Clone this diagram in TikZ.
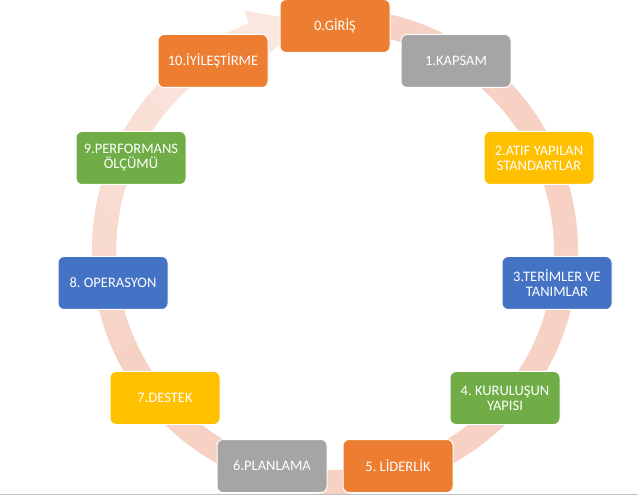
\documentclass[tikz,border=0pt]{standalone}
\usepackage{fontspec}
\setmainfont{Carlito}
\usetikzlibrary{calc}
\frenchspacing
\definecolor{cOrange}{HTML}{ED7D31}
\definecolor{cGray}{HTML}{A5A5A5}
\definecolor{cGold}{HTML}{FFC000}
\definecolor{cBlue}{HTML}{4472C4}
\definecolor{cGreen}{HTML}{70AD47}
\definecolor{ringStrong}{HTML}{F6D1C4}
\definecolor{ringLight}{HTML}{FBE7E0}
\definecolor{ruleGray}{HTML}{BFBFBF}
\tikzset{
  box/.style={rectangle, rounded corners=6pt, draw=white, line width=1pt,
    text=white, minimum width=110pt, minimum height=53pt, align=center,
    inner sep=2pt, font=\fontsize{14.5}{15}\selectfont\frenchspacing},
  ringseg/.style={line width=24pt},
  rulestyle/.style={draw=ruleGray, line width=1.5pt}
}
\begin{document}
\begin{tikzpicture}[x=1pt,y=-1pt]
\useasboundingbox[fill=white] (0,0) rectangle (638,497);
\coordinate (C) at (335,251);
% ring (circular arrow)
\draw[ringseg, ringStrong] (C) ++(-80:231) arc[start angle=-80, end angle=249.3, radius=231];
\foreach \i in {0,...,19}{
  \pgfmathsetmacro{\a}{150+\i*4.95}
  \pgfmathsetmacro{\b}{min(\a+5.5,249.3)}
  \pgfmathsetmacro{\p}{(\i+1)*5}
  \draw[ringseg, ringLight!\p!ringStrong] (C) ++(\a:231) arc[start angle=\a, end angle=\b, radius=231];
}
\fill[ringLight] ($(C)+(249.3:257)$) -- ($(C)+(263:231)$) -- ($(C)+(249.3:205)$) -- cycle;
% boxes
\node[box, fill=cOrange] (n0) at (335,26) {0.GİRİŞ};
\node[box, fill=cGray] (n1) at (456,61) {1.KAPSAM};
\node[box, fill=cGold] (n2) at (539,158) {2.ATIF YAPILAN\\STANDARTLAR};
\node[box, fill=cBlue] (n3) at (557,283) {3.TERİMLER VE\\TANIMLAR};
\node[box, fill=cGreen] (n4) at (505,398) {4. KURULUŞUN\\YAPISI};
\node[box, fill=cOrange] (n5) at (398,466) {5. LİDERLİK};
\node[box, fill=cGray] (n6) at (272,466) {6.PLANLAMA};
\node[box, fill=cGold] (n7) at (165,398) {7.DESTEK};
\node[box, fill=cBlue] (n8) at (113,283) {8. OPERASYON};
\node[box, fill=cGreen] (n9) at (131,158) {9.PERFORMANS\\ÖLÇÜMÜ};
\node[box, fill=cOrange] (n10) at (213,61) {10.İYİLEŞTİRME};
% bottom rule
\coordinate (ruleL) at (0,494.5);
\coordinate (ruleR) at (638,494.5);
\draw[rulestyle] (ruleL) -- (ruleR);
\end{tikzpicture}
\end{document}
